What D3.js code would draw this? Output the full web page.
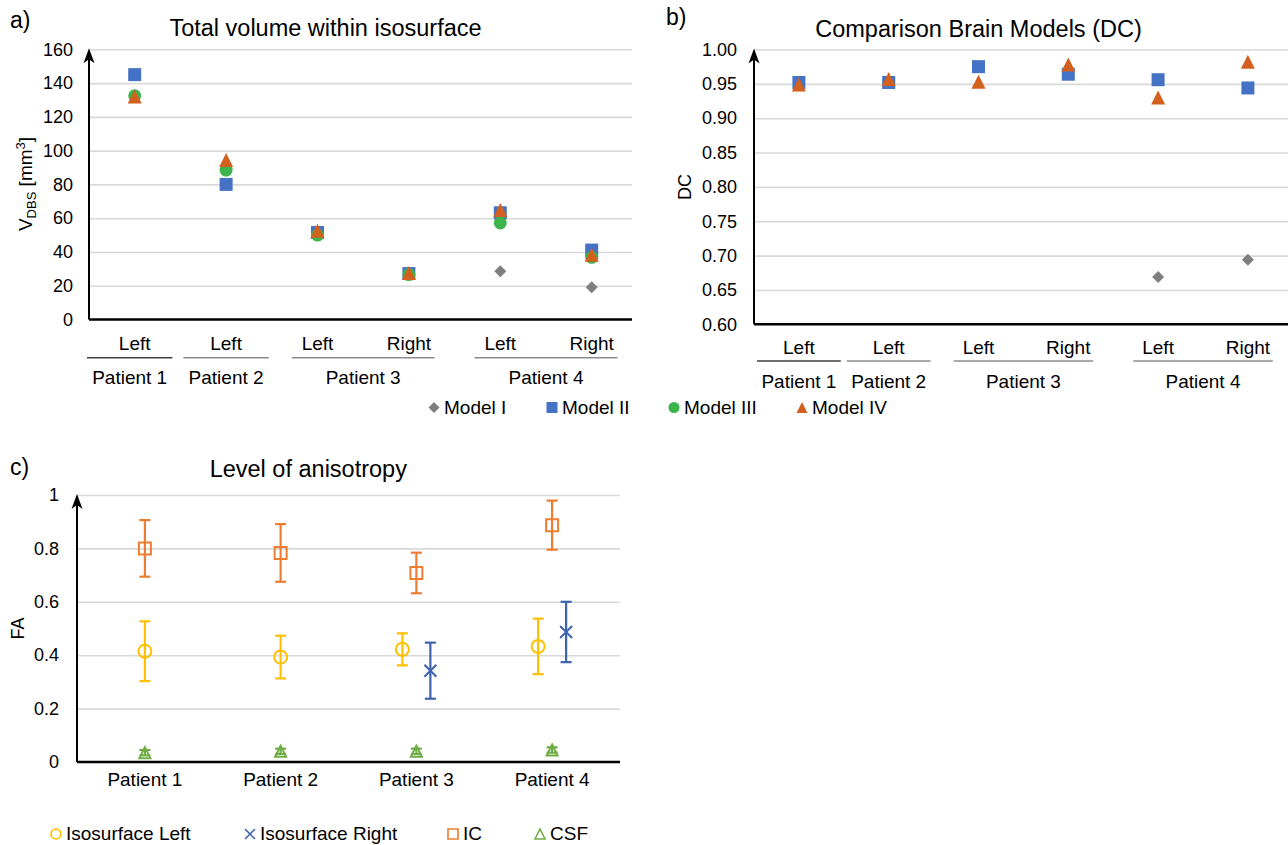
<!DOCTYPE html>
<html>
<head>
<meta charset="utf-8">
<script src="https://cdn.jsdelivr.net/npm/d3@7"></script>
<style>
  body { margin: 0; background: #fff; }
  svg text { font-family: "Liberation Sans", Arial, sans-serif; fill: #000; }
</style>
</head>
<body>
<svg id="fig" width="1288" height="845"></svg>
<script>
// ---- data: panels a) and b) ----
const categoryPatients = ["Patient 1", "Patient 2", "Patient 3", "Patient 3", "Patient 4", "Patient 4"];
const categorySides = ["Left", "Left", "Left", "Right", "Left", "Right"];
const modelNames = ["Model I", "Model II", "Model III", "Model IV"];

const volumeModelI = [null, null, null, null, 28.6, 19.1];
const volumeModelII = [145, 80, 51.5, 27.2, 63.2, 41.1];
const volumeModelIII = [132.5, 88.5, 50, 26.6, 57.2, 36.8];
const volumeModelIV = [132, 94.5, 52.5, 27.5, 64.8, 38.4];
const volumeTicks = [0, 20, 40, 60, 80, 100, 120, 140, 160];

const dcModelI = [null, null, null, null, 0.669, 0.694];
const dcModelII = [0.952, 0.952, 0.975, 0.964, 0.956, 0.944];
const dcModelIII = [null, null, null, null, null, null];
const dcModelIV = [0.949, 0.957, 0.953, 0.978, 0.930, 0.982];
const dcTicks = [0.60, 0.65, 0.70, 0.75, 0.80, 0.85, 0.90, 0.95, 1.00];

// ---- data: panel c) ----
const faPatients = ["Patient 1", "Patient 2", "Patient 3", "Patient 4"];
const faSeriesNames = ["Isosurface Left", "Isosurface Right", "IC", "CSF"];
const isoLeftMean = [0.415, 0.393, 0.422, 0.433];
const isoLeftSd = [0.112, 0.080, 0.060, 0.104];
const isoRightMean = [null, null, 0.342, 0.487];
const isoRightSd = [null, null, 0.105, 0.113];
const icMean = [0.800, 0.783, 0.708, 0.887];
const icSd = [0.106, 0.108, 0.076, 0.092];
const csfMean = [0.035, 0.040, 0.040, 0.045];
const csfSd = [0.010, 0.010, 0.010, 0.010];
const faTicks = [0, 0.2, 0.4, 0.6, 0.8, 1];

const modelStyles = [
    { shape: "diamond", color: "#7f7f7f", size: 12 },
    { shape: "square", color: "#4472c4", size: 13 },
    { shape: "circle", color: "#3cb44b", size: 13 },
    { shape: "triangle", color: "#d2601f", size: 14 },
];

const svg = d3.select("#fig");

function markerPath(shape, s) {
    const h = s / 2;
    if (shape === "square") return `M${-h},${-h}h${s}v${s}h${-s}Z`;
    if (shape === "circle") return `M${h},0A${h},${h} 0 1 1 ${-h},0A${h},${h} 0 1 1 ${h},0Z`;
    if (shape === "triangle") return `M0,${-h}L${h},${h}L${-h},${h}Z`;
    if (shape === "diamond") return `M0,${-h}L${h},0L0,${h}L${-h},0Z`;
    if (shape === "cross") return `M${-h},${-h}L${h},${h}M${h},${-h}L${-h},${h}`;
    return "";
}

function drawArrowAxis(g, x, top, bottom) {
    g.append("line").attr("x1", x).attr("x2", x).attr("y1", bottom).attr("y2", top + 8)
        .attr("stroke", "#000").attr("stroke-width", 2);
    g.append("path")
        .attr("d", `M${x},${top - 1}L${x + 5.5},${top + 14}L${x},${top + 10}L${x - 5.5},${top + 14}Z`)
        .attr("fill", "#000");
}

function drawGrid(g, y, ticks, x0, x1) {
    g.append("g")
        .attr("transform", `translate(${x0},0)`)
        .call(d3.axisLeft(y).tickValues(ticks.slice(1)).tickSize(-(x1 - x0)).tickFormat(""))
        .call((a) => a.select(".domain").remove())
        .call((a) => a.selectAll(".tick line").attr("stroke", "#d9d9d9").attr("stroke-width", 1.6));
}

function drawTickLabels(g, y, ticks, xEnd, fmt) {
    g.append("g")
        .attr("transform", `translate(${xEnd + 4},0)`)
        .call(d3.axisLeft(y).tickValues(ticks).tickSize(0).tickPadding(4).tickFormat(fmt))
        .call((a) => a.select(".domain").remove())
        .call((a) => a.selectAll("text").style("font-size", "18px").attr("fill", "#000"));
}

function scatterPanel(o) {
    const g = svg.append("g");
    const x = d3.scaleBand().domain(d3.range(categorySides.length)).range([o.left, o.bandRight]);
    const y = d3.scaleLinear().domain([o.ticks[0], o.ticks[o.ticks.length - 1]]).range([o.bottom, o.top]);

    drawGrid(g, y, o.ticks, o.left, o.gridRight);
    drawTickLabels(g, y, o.ticks, o.tickEnd, o.format);

    g.append("line").attr("x1", o.left).attr("x2", o.gridRight)
        .attr("y1", o.bottom).attr("y2", o.bottom)
        .attr("stroke", "#000").attr("stroke-width", 2.4);
    drawArrowAxis(g, o.left, o.top, o.bottom);

    // side labels
    g.selectAll(".side").data(categorySides).join("text")
        .attr("x", (d, i) => x(i) + x.bandwidth() / 2)
        .attr("y", o.sideY)
        .attr("text-anchor", "middle")
        .style("font-size", "19px")
        .text((d) => d);

    // patient groups
    const groups = [];
    categoryPatients.forEach((p, i) => {
        const last = groups[groups.length - 1];
        if (last && last.name === p) last.end = i;
        else groups.push({ name: p, start: i, end: i });
    });
    groups.forEach((grp, gi) => {
        const inset = grp.start === grp.end ? 3 : 20;
        const x0 = x(grp.start) + inset - (gi === 0 ? o.firstShift : 0);
        const x1 = x(grp.end) + x.bandwidth() - inset - (gi === 0 ? o.firstShift : 0);
        g.append("line").attr("x1", x0).attr("x2", Math.min(x1, 1290)).attr("y1", o.lineY).attr("y2", o.lineY)
            .attr("stroke", gi === 0 ? "#404040" : "#8c8c8c").attr("stroke-width", 1.5);
        g.append("text")
            .attr("x", (x0 + x1) / 2)
            .attr("y", o.groupY)
            .attr("text-anchor", "middle")
            .style("font-size", "19px")
            .text(grp.name);
    });

    // markers
    o.series.forEach((vals, si) => {
        const st = modelStyles[si];
        g.selectAll(`.m${si}`).data(vals.map((v, i) => ({ v, i })).filter((d) => d.v != null))
            .join("path")
            .attr("transform", (d) => `translate(${x(d.i) + x.bandwidth() / 2},${y(d.v)})`)
            .attr("d", markerPath(st.shape, st.size))
            .attr("fill", st.color);
    });

    // title
    g.append("text").attr("x", o.titleX).attr("y", o.titleY).attr("text-anchor", "middle")
        .style("font-size", "23.5px").text(o.title);
    g.append("text").attr("x", o.labelX).attr("y", o.labelY).style("font-size", "23px").text(o.label);
    return g;
}

// ---- panel a ----
const ga = scatterPanel({
    left: 89, bandRight: 637.4, gridRight: 632, top: 49.3, bottom: 319.5,
    ticks: volumeTicks, format: (d) => d, tickEnd: 73,
    sideY: 350, lineY: 357.7, groupY: 383.5, firstShift: 5,
    series: [volumeModelI, volumeModelII, volumeModelIII, volumeModelIV],
    title: "Total volume within isosurface", titleX: 325.5, titleY: 36,
    label: "a)", labelX: 10, labelY: 28,
});
const yla = ga.append("text").attr("transform", "translate(32,184) rotate(-90)")
    .attr("text-anchor", "middle").style("font-size", "19px");
yla.append("tspan").text("V");
yla.append("tspan").attr("dy", 4).style("font-size", "13px").text("DBS");
yla.append("tspan").attr("dy", -4).text(" [mm");
yla.append("tspan").attr("dy", -7).style("font-size", "13px").text("3");
yla.append("tspan").attr("dy", 7).text("]");

// ---- panel b ----
const gb = scatterPanel({
    left: 754, bandRight: 1292.8, gridRight: 1290, top: 49.5, bottom: 324.3,
    ticks: dcTicks, format: d3.format(".2f"), tickEnd: 737,
    sideY: 354, lineY: 361, groupY: 387.5, firstShift: 0,
    series: [dcModelI, dcModelII, dcModelIII, dcModelIV],
    title: "Comparison Brain Models (DC)", titleX: 978.5, titleY: 36.5,
    label: "b)", labelX: 666, labelY: 25,
});
gb.append("text").attr("transform", "translate(691,187) rotate(-90)")
    .attr("text-anchor", "middle").style("font-size", "18px").text("DC");

// shared legend of a) and b)
const legendA = svg.append("g");
const legendAX = [434, 552, 674, 802];
modelNames.forEach((name, i) => {
    const st = modelStyles[i];
    legendA.append("path").attr("transform", `translate(${legendAX[i]},407.5)`)
        .attr("d", markerPath(st.shape, 11)).attr("fill", st.color);
    legendA.append("text").attr("x", legendAX[i] + 10).attr("y", 414)
        .style("font-size", "19px").text(name);
});

// ---- panel c ----
const gc = svg.append("g");
const cLeft = 77, cRight = 620, cTop = 495, cBottom = 762;
const xc = d3.scaleBand().domain(faPatients).range([cLeft, cRight]);
const yc = d3.scaleLinear().domain([0, 1]).range([cBottom, cTop]);
drawGrid(gc, yc, faTicks, cLeft, cRight);
drawTickLabels(gc, yc, faTicks, 59, (d) => String(+d.toFixed(1)));
gc.append("line").attr("x1", cLeft).attr("x2", cRight).attr("y1", cBottom).attr("y2", cBottom)
    .attr("stroke", "#000").attr("stroke-width", 2.4);
drawArrowAxis(gc, cLeft, cTop, cBottom);

gc.selectAll(".xl").data(faPatients).join("text")
    .attr("x", (d) => xc(d) + xc.bandwidth() / 2).attr("y", 786)
    .attr("text-anchor", "middle").style("font-size", "19px").text((d) => d);

const faSeries = [
    { mean: isoLeftMean, sd: isoLeftSd, shape: "circle", color: "#ffc000", size: 13, side: -1 },
    { mean: isoRightMean, sd: isoRightSd, shape: "cross", color: "#3d63b0", size: 12, side: 1 },
    { mean: icMean, sd: icSd, shape: "square", color: "#ed7d31", size: 12, side: 0 },
    { mean: csfMean, sd: csfSd, shape: "triangle", color: "#70ad47", size: 11, side: 0 },
];
const sideOffset = 14;
faSeries.forEach((s) => {
    faPatients.forEach((p, i) => {
        const m = s.mean[i];
        if (m == null) return;
        // a patient with a right-side isosurface gets its two sides split apart
        const split = isoRightMean[i] != null ? s.side * sideOffset : 0;
        const cx = xc(p) + xc.bandwidth() / 2 + split;
        const y0 = yc(m - s.sd[i]), y1 = yc(m + s.sd[i]);
        const eb = gc.append("g").attr("stroke", s.color).attr("stroke-width", 2.2).attr("fill", "none");
        eb.append("line").attr("x1", cx).attr("x2", cx).attr("y1", y0).attr("y2", y1);
        eb.append("line").attr("x1", cx - 5.5).attr("x2", cx + 5.5).attr("y1", y0).attr("y2", y0);
        eb.append("line").attr("x1", cx - 5.5).attr("x2", cx + 5.5).attr("y1", y1).attr("y2", y1);
        gc.append("path").attr("transform", `translate(${cx},${yc(m)})`)
            .attr("d", markerPath(s.shape, s.size))
            .attr("fill", "none").attr("stroke", s.color).attr("stroke-width", 2);
    });
});

gc.append("text").attr("x", 308.3).attr("y", 477).attr("text-anchor", "middle")
    .style("font-size", "23.5px").text("Level of anisotropy");
gc.append("text").attr("x", 10).attr("y", 475).style("font-size", "23px").text("c)");
gc.append("text").attr("transform", "translate(23.5,628.5) rotate(-90)")
    .attr("text-anchor", "middle").style("font-size", "18px").text("FA");

const legendCX = [56, 250, 453, 540];
faSeriesNames.forEach((name, i) => {
    const s = faSeries[i];
    gc.append("path").attr("transform", `translate(${legendCX[i]},834)`)
        .attr("d", markerPath(s.shape, 10))
        .attr("fill", "none").attr("stroke", s.color).attr("stroke-width", 1.6);
    gc.append("text").attr("x", legendCX[i] + 10).attr("y", 840)
        .style("font-size", "19px").text(name);
});
</script>
</body>
</html>
